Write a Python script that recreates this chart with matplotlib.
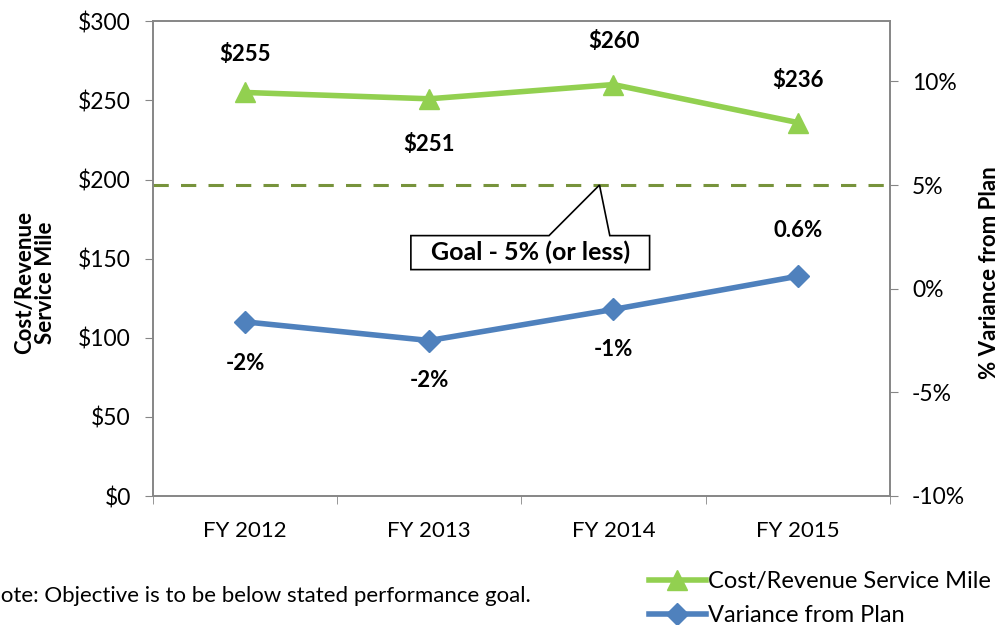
"""
Cost per revenue service mile and variance from plan, FY 2012-2015
"""

import matplotlib
matplotlib.use("Agg")
import matplotlib.pyplot as plt
from matplotlib.patches import Polygon
from matplotlib.lines import Line2D

years = ["FY 2012", "FY 2013", "FY 2014", "FY 2015"]
cost_per_mile = [255, 251, 260, 236]
cost_labels = ["$255", "$251", "$260", "$236"]
variance_pct = [-1.6, -2.5, -1.0, 0.6]
variance_labels = ["-2%", "-2%", "-1%", "0.6%"]
goal_pct = 5

plt.rcParams["font.family"] = ["Lato", "DejaVu Sans"]

GREEN = "#92D050"
BLUE = "#4F81BD"
GOAL = "#77933C"
GRID = "#868686"

fig = plt.figure(figsize=(10.02, 6.25), dpi=100)
ax = fig.add_axes([0.1527, 0.2064, 0.888 - 0.1527, 0.966 - 0.2064])
ax2 = ax.twinx()

x = list(range(len(years)))

# left axis: cost per mile
ax.plot(x, cost_per_mile, color=GREEN, lw=4, marker="^", ms=15, zorder=3)
ax.set_ylim(0, 300)
ax.set_yticks(range(0, 301, 50))
ax.set_yticklabels([f"${v}" for v in range(0, 301, 50)], fontsize=16.5)
ax.set_xlim(-0.5, 3.5)
ax.set_xticks(x)
ax.set_xticklabels(years, fontsize=16)
ax.set_xticks([i - 0.5 for i in range(len(years) + 1)], minor=True)
ax.tick_params(axis="x", which="major", length=0, pad=18)
ax.tick_params(axis="x", which="minor", length=6, color=GRID, direction="out")
ax.tick_params(axis="y", length=6, color=GRID, direction="out", pad=10)
ax.set_ylabel("Cost/Revenue\nService Mile", fontsize=16, fontweight="bold",
              linespacing=1.0, va="center")
ax.yaxis.set_label_coords(-0.16, 0.45)

offsets = [27, -33, 31, 30]
for xi, v, lab, dy in zip(x, cost_per_mile, cost_labels, offsets):
    ax.annotate(lab, (xi, v), xytext=(0, dy), textcoords="offset points",
                ha="center", va="center", fontsize=16, fontweight="bold")

# right axis: variance from plan
ax2.plot(x, variance_pct, color=BLUE, lw=4, marker="D", ms=11, zorder=3)
ax2.axhline(goal_pct, color=GOAL, lw=2.2, ls=(0, (5, 4)), zorder=2)
ax2.set_ylim(-10, 12.9)
ax2.set_yticks(range(-10, 11, 5))
ax2.set_yticklabels([f"{v}%" for v in range(-10, 11, 5)], fontsize=16.5)
ax2.tick_params(axis="y", length=6, color=GRID, direction="out", pad=10)
ax2.set_ylabel("% Variance from Plan", fontsize=16, fontweight="bold", va="center")
ax2.yaxis.set_label_coords(1.136, 0.47)

v_offsets = [-30, -29, -29, 33]
for xi, v, lab, dy in zip(x, variance_pct, variance_labels, v_offsets):
    ax2.annotate(lab, (xi, v), xytext=(0, dy), textcoords="offset points",
                 ha="center", va="center", fontsize=16, fontweight="bold")

# goal callout
callout = Polygon([(0.90, 0.92), (2.196, 0.92), (2.196, 2.56), (1.98, 2.56),
                   (1.924, goal_pct), (1.65, 2.56), (0.90, 2.56)],
                  closed=True, facecolor="white", edgecolor="black", lw=1.2, zorder=4)
ax2.add_patch(callout)
ax2.text(1.548, 1.74, "Goal - 5% (or less)", ha="center", va="center",
         fontsize=18, fontweight="bold", zorder=5)

for a in (ax, ax2):
    for s in a.spines.values():
        s.set_color(GRID)
        s.set_linewidth(1.2)

# legend and note
handles = [
    Line2D([], [], color=GREEN, lw=4, marker="^", ms=15),
    Line2D([], [], color=BLUE, lw=4, marker="D", ms=11),
]
fig.legend(handles, ["Cost/Revenue Service Mile", "Variance from Plan"],
           loc="lower right", bbox_to_anchor=(1.01, -0.036), frameon=False,
           fontsize=17, handlelength=2.4, handletextpad=0.1, labelspacing=0.55)
fig.text(-0.016, 0.046, "Note: Objective is to be below stated performance goal.",
         fontsize=16, ha="left", va="center")

fig.savefig("out.png", dpi=100)
